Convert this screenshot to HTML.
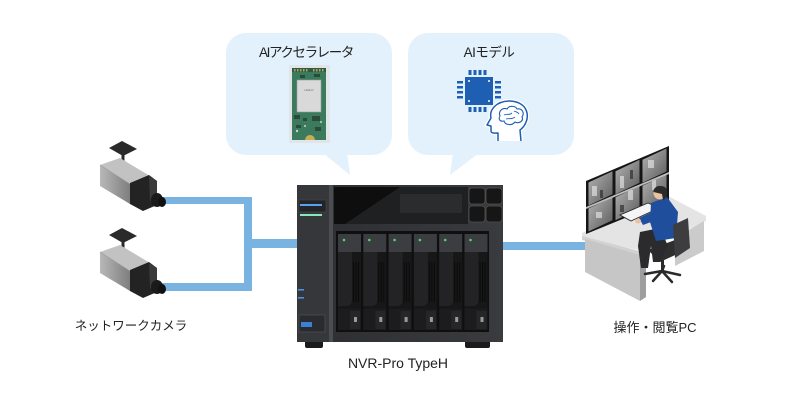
<!DOCTYPE html>
<html><head><meta charset="utf-8">
<style>
html,body{margin:0;padding:0;background:#fff;}
#w{position:relative;width:800px;height:400px;overflow:hidden;background:#fff;}
svg{position:absolute;left:0;top:0;}
.t{position:absolute;text-align:center;color:#222;font-family:"Liberation Sans","Noto Sans CJK JP",sans-serif;white-space:nowrap;}
</style></head><body>
<div id="w">
<svg width="800" height="400" viewBox="0 0 800 400">
<defs>
<linearGradient id="camSide" x1="0" y1="0" x2="1" y2="0">
<stop offset="0" stop-color="#b8b8b8"/><stop offset="1" stop-color="#7e7e7e"/>
</linearGradient>
<linearGradient id="nasBody" x1="0" y1="0" x2="1" y2="0">
<stop offset="0" stop-color="#2c2d30"/><stop offset="1" stop-color="#3a3b3e"/>
</linearGradient>
<linearGradient id="scr" x1="0" y1="0" x2="1" y2="1">
<stop offset="0" stop-color="#b4b4b4"/><stop offset="1" stop-color="#5a5a5a"/>
</linearGradient>
<g id="cam">
<polygon points="109,148 122,141 137,149 123,156" fill="#2a2a2a"/>
<rect x="121.5" y="155" width="3" height="12" fill="#2a2a2a"/>
<ellipse cx="123" cy="168" rx="5" ry="3" fill="#222"/>
<polygon points="100,165 120,158 150,176 130,184" fill="#c2c2c2"/>
<polygon points="100,165 130,184 130,204 100,186" fill="url(#camSide)"/>
<polyline points="100,165 130,184 150,176" fill="none" stroke="#9a9a9a" stroke-width="0.6"/>
<polygon points="130,183 149,175 157,181 157,205 143,211 130,204" fill="#232323"/>
<polygon points="149,176 157,181 157,205 150,201" fill="#3a3a3a"/>
<ellipse cx="157" cy="200" rx="6" ry="7" fill="#1a1a1a"/>
<ellipse cx="162" cy="202" rx="4" ry="5" fill="#111"/>
</g>
</defs>

<!-- speech bubbles -->
<rect x="226" y="33" width="166" height="122" rx="20" fill="#e2f1fb"/>
<polygon points="323,153 350,175 347,153" fill="#e2f1fb"/>
<rect x="408" y="33" width="166" height="122" rx="20" fill="#e2f1fb"/>
<polygon points="453,153 450,175 479,153" fill="#e2f1fb"/>

<!-- accelerator board -->
<rect x="289" y="65" width="41" height="78" fill="#dfe5e8"/>
<rect x="292" y="68" width="34" height="72" fill="#3b7a5d"/>
<rect x="292" y="68" width="34" height="4" fill="#2b5c46"/>
<g fill="#b9a35a"><rect x="294" y="69" width="1.5" height="2.5"/><rect x="297" y="69" width="1.5" height="2.5"/><rect x="300" y="69" width="1.5" height="2.5"/><rect x="303" y="69" width="1.5" height="2.5"/><rect x="306" y="69" width="1.5" height="2.5"/><rect x="313" y="69" width="1.5" height="2.5"/><rect x="316" y="69" width="1.5" height="2.5"/><rect x="319" y="69" width="1.5" height="2.5"/><rect x="322" y="69" width="1.5" height="2.5"/></g>
<rect x="297" y="80" width="24" height="32" fill="#d9d9d9" stroke="#9a9a9a" stroke-width="0.6"/>
<text x="309" y="91" font-size="3" text-anchor="middle" fill="#666" font-family="Liberation Sans,sans-serif">HAILO</text>
<g fill="#2a4a3a"><rect x="294" y="115" width="6" height="4"/><rect x="303" y="118" width="4" height="3"/><rect x="312" y="116" width="8" height="5"/><rect x="296" y="125" width="5" height="3"/><rect x="315" y="127" width="6" height="4"/><rect x="300" y="75" width="5" height="3"/><rect x="314" y="74" width="6" height="3"/></g>
<g fill="#cfcfcf"><circle cx="297" cy="131" r="1.2"/><circle cx="321" cy="122" r="1"/><circle cx="305" cy="126" r="1"/></g>
<path d="M305 140 A5 5 0 0 1 315 140 Z" fill="#c9ad55"/>

<!-- AI model icon -->
<g fill="#1e5fb4">
<rect x="465" y="77" width="28" height="28"/>
<rect x="468.5" y="70" width="3" height="5"/><rect x="473.5" y="70" width="3" height="5"/><rect x="478.5" y="70" width="3" height="5"/><rect x="483.5" y="70" width="3" height="5"/>
<rect x="468.5" y="107" width="3" height="5"/><rect x="473.5" y="107" width="3" height="5"/><rect x="478.5" y="107" width="3" height="5"/><rect x="483.5" y="107" width="3" height="5"/>
<rect x="457" y="81" width="6" height="2.5"/><rect x="457" y="86" width="6" height="2.5"/><rect x="457" y="91" width="6" height="2.5"/><rect x="457" y="96" width="6" height="2.5"/>
<rect x="495" y="81" width="6" height="2.5"/><rect x="495" y="86" width="6" height="2.5"/><rect x="495" y="91" width="6" height="2.5"/><rect x="495" y="96" width="6" height="2.5"/>
</g>
<g fill="#fff"><circle cx="469" cy="81" r="1"/><circle cx="489" cy="81" r="1"/><circle cx="469" cy="101" r="1"/><circle cx="489" cy="101" r="1"/></g>
<path d="M521 141 L520 130 C531 122 531 102 510 101 C496 101 489 110 491 118 L487 125 L491 126 L491 131 C491 134 497 133 498 133 L498 141" fill="#fff" stroke="#fff" stroke-width="4"/>
<path d="M521 141 L520 130 C531 122 531 102 510 101 C496 101 489 110 491 118 L487 125 L491 126 L491 131 C491 134 497 133 498 133 L498 141" fill="none" stroke="#1e5fb4" stroke-width="1.5" stroke-linejoin="round"/>
<path d="M500 116 C498 111 503 107 507 109 C509 105 516 106 517 109 C522 108 525 113 522 117 C524 121 519 124 515 122 C512 126 505 125 504 121 C500 122 498 119 500 116 Z" fill="none" stroke="#1e5fb4" stroke-width="1.1"/>
<path d="M504 115 C507 113 509 116 512 113 M506 119 C509 118 511 120 515 117 M514 111 C516 112 518 112 519 114" fill="none" stroke="#1e5fb4" stroke-width="0.9"/>

<!-- connectors -->
<g fill="#78b3e2">
<rect x="158" y="197" width="94" height="7"/>
<rect x="244" y="197" width="8" height="94"/>
<rect x="158" y="283" width="94" height="8"/>
<rect x="250" y="239" width="48" height="9"/>
<rect x="500" y="242" width="90" height="8"/>
</g>

<!-- cameras -->
<use href="#cam"/>
<use href="#cam" y="87"/>

<!-- NAS -->
<rect x="305" y="338" width="18" height="10" rx="2" fill="#1b1b1c"/>
<rect x="465" y="338" width="25" height="10" rx="2" fill="#1b1b1c"/>
<rect x="297" y="185" width="206" height="157" fill="url(#nasBody)"/>
<rect x="297" y="185" width="32" height="157" fill="#36373a"/>
<rect x="329" y="185" width="4" height="157" fill="#4c4d50"/>
<rect x="299" y="200" width="27" height="12" fill="#232427" stroke="#4a4a4e" stroke-width="0.6"/>
<rect x="300" y="204" width="22" height="2" fill="#5a9ff0"/>
<rect x="300" y="214" width="22" height="2" fill="#86e8b8"/>
<rect x="298" y="289" width="6" height="1.6" fill="#4a8fe0"/>
<rect x="298" y="297" width="6" height="1.6" fill="#4a8fe0"/>
<rect x="299" y="315" width="26" height="17" fill="#2a2b2e" stroke="#55565a" stroke-width="0.6"/>
<rect x="301" y="322" width="11" height="5" fill="#3b7fd6"/>
<!-- top display -->
<rect x="334" y="187" width="134" height="37" fill="#0e0e0f"/>
<polygon points="400,187 468,187 468,224 345,224" fill="#1f2022"/>
<rect x="400" y="194" width="62" height="19" fill="#2b2c2e"/>
<rect x="469" y="188" width="16" height="16" rx="3" fill="#161617" stroke="#505053" stroke-width="0.8"/>
<rect x="486" y="188" width="16" height="16" rx="3" fill="#161617" stroke="#505053" stroke-width="0.8"/>
<rect x="469" y="206" width="16" height="16" rx="3" fill="#161617" stroke="#505053" stroke-width="0.8"/>
<rect x="486" y="206" width="16" height="16" rx="3" fill="#161617" stroke="#505053" stroke-width="0.8"/>
<!-- bays -->
<rect x="336" y="231" width="153" height="101" fill="#0f0f10"/>
<g id="bay">
<rect x="338" y="234" width="23" height="18" fill="#3c3d40"/>
<circle cx="344" cy="240" r="1.3" fill="#4fd46a"/>
<rect x="338" y="252" width="23" height="57" fill="#171718"/>
<path d="M338 252 L352 252 L352 300 Q352 306 346 306 L338 306 Z" fill="#232325"/>
<g fill="#0a0a0a"><rect x="353" y="262" width="1" height="40"/><rect x="355.5" y="262" width="1" height="40"/><rect x="358" y="262" width="1" height="40"/></g>
<rect x="338" y="309" width="23" height="21" fill="#1c1c1e"/>
<rect x="350" y="311" width="10" height="18" fill="#262628"/>
<rect x="354" y="317" width="3" height="5" fill="#9a9a9a"/>
</g>
<use href="#bay" x="25.3"/><use href="#bay" x="50.6"/><use href="#bay" x="75.9"/><use href="#bay" x="101.2"/><use href="#bay" x="126.5"/>

<!-- operator desk -->
<polygon points="582,233 668,196 706,216 706,221 643,251 582,238" fill="#e4e4e4"/>
<polygon points="582,236 643,252 643,256 582,240" fill="#d2d2d2"/>
<polygon points="585,239 640,255 640,301 585,272" fill="#c6c6c6"/>
<polygon points="640,255 646,252 646,297 640,301" fill="#9e9e9e"/>
<polygon points="675,238 704,221 704,251 675,266" fill="#cbcbcb"/>
<!-- monitors -->
<polygon points="586,181 669,146 669,200 586,234" fill="#151515"/>
<polygon points="588.5,182.5 612.5,171.2 612.5,194.2 588.5,205.5" fill="url(#scr)"/>
<polygon points="588.5,208.5 612.5,197.2 612.5,220.2 588.5,231.5" fill="url(#scr)"/>
<polygon points="615.5,171.2 639.5,159.8 639.5,182.8 615.5,194.2" fill="url(#scr)"/>
<polygon points="615.5,197.2 639.5,185.8 639.5,208.8 615.5,220.2" fill="url(#scr)"/>
<polygon points="642.5,159.8 666.5,148.5 666.5,171.5 642.5,182.8" fill="url(#scr)"/>
<polygon points="642.5,185.8 666.5,174.5 666.5,197.5 642.5,208.8" fill="url(#scr)"/>
<g fill="#eeeeee" opacity="0.6"><rect x="592" y="186" width="5" height="10"/><rect x="620" y="176" width="4" height="12"/><rect x="648" y="160" width="6" height="8"/><rect x="628" y="190" width="5" height="10"/><rect x="596" y="212" width="6" height="6"/><rect x="652" y="180" width="4" height="10"/></g>
<g fill="#222" opacity="0.6"><rect x="600" y="190" width="3" height="8"/><rect x="630" y="170" width="3" height="9"/><rect x="657" y="186" width="3" height="8"/><rect x="620" y="205" width="4" height="7"/></g>
<polygon points="586,207 669,172 669,174 586,209" fill="#bdbdbd"/>
<!-- keyboard -->
<polygon points="620,215 648,203 659,208 631,221" fill="#f5f5f5" stroke="#2a2a2a" stroke-width="0.9"/>
<!-- chair -->
<polygon points="648,250 675,240 686,250 660,262" fill="#2f2f30"/>
<rect x="661" y="260" width="3" height="11" fill="#2a2a2a"/>
<g stroke="#2a2a2a" stroke-width="2.5" stroke-linecap="round"><line x1="662" y1="271" x2="645" y2="274"/><line x1="662" y1="271" x2="680" y2="275"/><line x1="662" y1="271" x2="653" y2="281"/><line x1="662" y1="271" x2="672" y2="282"/><line x1="662" y1="271" x2="664" y2="266"/></g>
<!-- person -->
<polygon points="640,232 660,228 668,246 660,262 653,262 651,246 638,246" fill="#2b2b2d"/>
<polygon points="638,246 651,246 648,268 641,268" fill="#2b2b2d"/>
<polygon points="651,203 667,197 678,212 676,238 656,241 650,222" fill="#1f4e9c"/>
<polygon points="639,218 654,211 659,219 643,225" fill="#1f4e9c"/>
<ellipse cx="638" cy="221" rx="3" ry="2.5" fill="#e9c2a2"/>
<circle cx="660" cy="193" r="6.5" fill="#e9c2a2"/>
<path d="M653.5 192 C653 185 665 184 667 190 C668 195 666 199 663 200 L662 194 Z" fill="#2b2b2d"/>
<polygon points="673,225 688,218 690,248 675,258" fill="#3d3d3f"/>
</svg>

<div class="t" style="left:223px;top:44px;width:166px;font-size:13.5px;line-height:18px;letter-spacing:-1.4px;">AIアクセラレータ</div>
<div class="t" style="left:406px;top:44px;width:166px;font-size:13.5px;line-height:18px;letter-spacing:-0.5px;">AIモデル</div>
<div class="t" style="left:51px;top:317px;width:160px;font-size:12.5px;line-height:18px;">ネットワークカメラ</div>
<div class="t" style="left:318px;top:354px;width:160px;font-size:14px;line-height:18px;">NVR-Pro TypeH</div>
<div class="t" style="left:575px;top:319px;width:160px;font-size:13px;line-height:18px;">操作・閲覧PC</div>
</div>
</body></html>
